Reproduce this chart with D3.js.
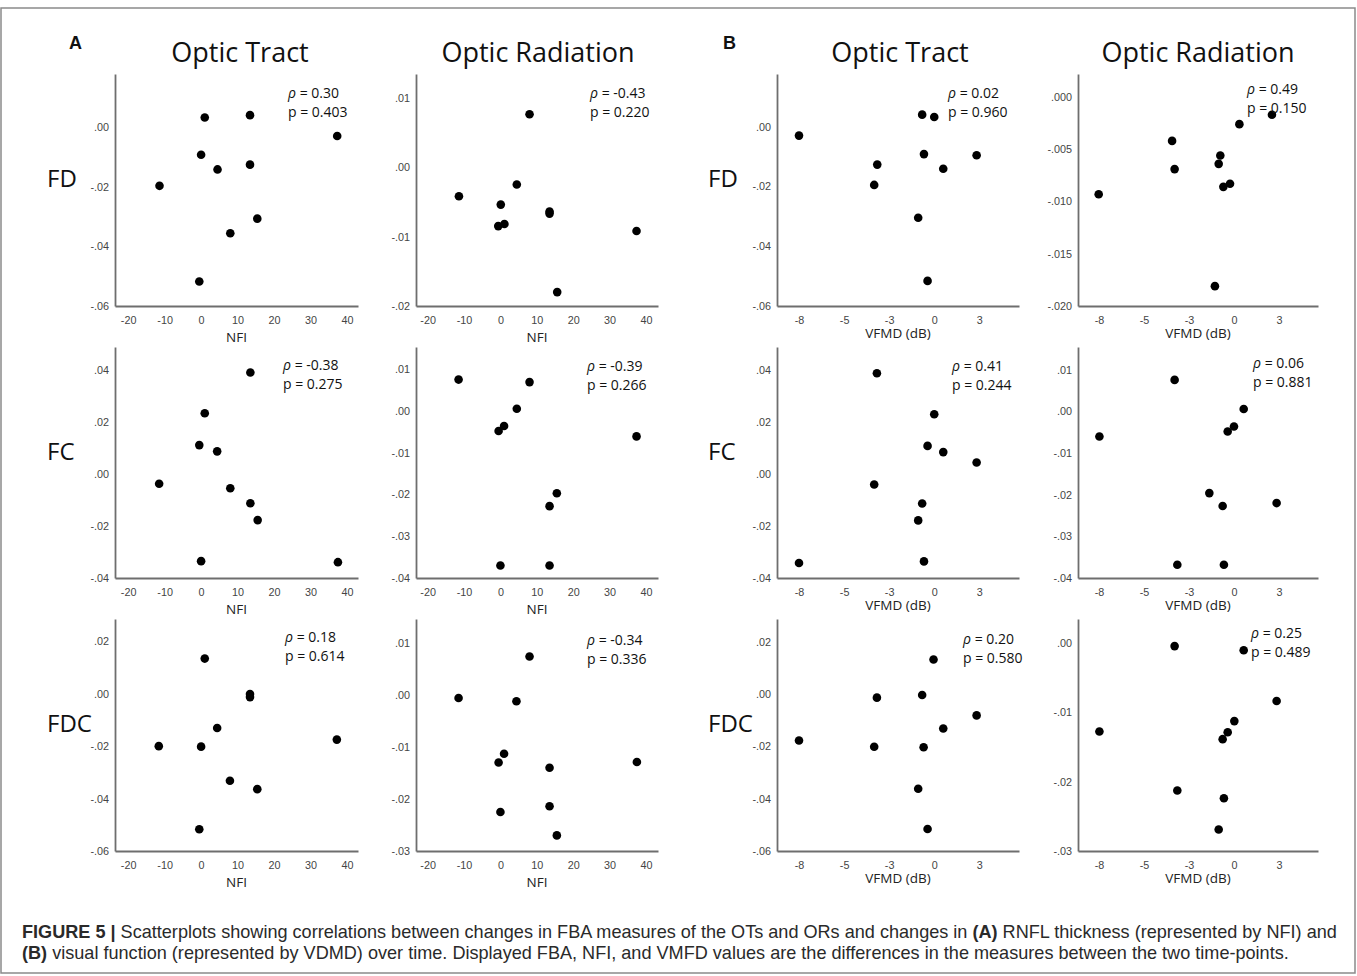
<!DOCTYPE html>
<html>
<head>
<meta charset="utf-8">
<script src="https://cdn.jsdelivr.net/npm/d3@7"></script>
<style>
  body { margin: 0; background: #fff; }
</style>
</head>
<body>
<svg id="fig" width="1357" height="976"></svg>
<script>
// row / column names
const measures = ["FD", "FC", "FDC"];
const tracts = ["Optic Tract", "Optic Radiation"];
const groups = ["A", "B"];
const xTitles = ["NFI", "VFMD (dB)"];

// x ticks
const nfiTicks = [-20, -10, 0, 10, 20, 30, 40];
const vfmdTicks = [-7.5, -5, -2.5, 0, 2.5];
const vfmdTickLabels = ["-8", "-5", "-3", "0", "3"];

// y ticks, one list per panel kind
const yTicksFdOT = [-0.06, -0.04, -0.02, 0];
const yTicksFdOR_A = [-0.02, -0.01, 0, 0.01];
const yTicksFdOR_B = [-0.02, -0.015, -0.01, -0.005, 0];
const yTicksFcOT = [-0.04, -0.02, 0, 0.02, 0.04];
const yTicksFcOR = [-0.04, -0.03, -0.02, -0.01, 0, 0.01];
const yTicksFdcOT = [-0.06, -0.04, -0.02, 0, 0.02];
const yTicksFdcOR_A = [-0.03, -0.02, -0.01, 0, 0.01];
const yTicksFdcOR_B = [-0.03, -0.02, -0.01, 0];

// (A) x = NFI change, y = FBA change
const aFdOT = [[1.0, 0.0032], [13.4, 0.0040], [37.3, -0.0030], [0, -0.0093], [4.5, -0.0142],
  [13.4, -0.0126], [-11.4, -0.0197], [15.4, -0.0307], [8.0, -0.0356], [-0.5, -0.0518]];
const aFdOR = [[8.0, 0.0076], [4.5, -0.0025], [-11.4, -0.0042], [0.1, -0.0054], [-0.6, -0.0085],
  [1.1, -0.0082], [13.5, -0.0064], [13.5, -0.0067], [37.4, -0.0092], [15.6, -0.0180]];
const aFcOT = [[13.5, 0.0392], [1.0, 0.0235], [-0.5, 0.0112], [4.4, 0.0088], [-11.5, -0.0037],
  [8.0, -0.0054], [13.5, -0.0112], [15.5, -0.0177], [0, -0.0335], [37.5, -0.0339]];
const aFcOR = [[-11.5, 0.0075], [8.0, 0.0069], [4.5, 0.0005], [1.0, -0.0036], [-0.5, -0.0048],
  [37.4, -0.0061], [15.5, -0.0197], [13.5, -0.0228], [0, -0.0370], [13.5, -0.0370]];
const aFdcOT = [[1.0, 0.0134], [13.4, -0.0001], [13.4, -0.0013], [4.4, -0.0131], [-11.6, -0.0200],
  [0, -0.0202], [37.2, -0.0175], [7.9, -0.0332], [15.4, -0.0364], [-0.5, -0.0517]];
const aFdcOR = [[8.0, 0.0074], [-11.5, -0.0006], [4.4, -0.0012], [1.0, -0.0113], [-0.5, -0.0130],
  [13.5, -0.0140], [37.5, -0.0129], [13.5, -0.0214], [0, -0.0225], [15.5, -0.0270]];

// (B) x = VFMD change (dB), y = FBA change
const bFdOT = [[-7.5, -0.0030], [-3.16, -0.0127], [-3.33, -0.0195], [-0.67, 0.0040], [0, 0.0032],
  [-0.57, -0.0092], [2.35, -0.0096], [0.50, -0.0141], [-0.89, -0.0305], [-0.37, -0.0516]];
const bFdOR = [[-7.52, -0.0093], [-3.44, -0.0042], [-3.30, -0.0069], [-0.76, -0.0056], [-0.85, -0.0064],
  [-0.59, -0.0086], [-0.22, -0.0083], [0.30, -0.0026], [2.11, -0.0017], [-1.06, -0.0181]];
const bFcOT = [[-3.18, 0.0389], [0, 0.0231], [-0.37, 0.0109], [0.50, 0.0085], [2.35, 0.0045],
  [-3.33, -0.0040], [-0.67, -0.0113], [-0.89, -0.0178], [-7.5, -0.0342], [-0.57, -0.0336]];
const bFcOR = [[-3.30, 0.0076], [0.54, 0.0006], [0, -0.0036], [-0.35, -0.0048], [-7.48, -0.0060],
  [-1.37, -0.0196], [-0.63, -0.0227], [2.37, -0.0220], [-3.15, -0.0368], [-0.56, -0.0368]];
const bFdcOT = [[-0.04, 0.0133], [-3.18, -0.0013], [-0.67, -0.0003], [2.35, -0.0081], [0.50, -0.0131],
  [-7.5, -0.0177], [-3.33, -0.0201], [-0.59, -0.0203], [-0.89, -0.0362], [-0.37, -0.0516]];
const bFdcOR = [[-3.30, -0.0005], [0.54, -0.0011], [2.37, -0.0084], [0.02, -0.0113], [-0.35, -0.0129],
  [-0.63, -0.0139], [-7.48, -0.0128], [-3.15, -0.0213], [-0.56, -0.0224], [-0.85, -0.0269]];

// spearman rho and p, row by row, columns A-OT, A-OR, B-OT, B-OR
const rhos = [["0.30", "-0.43", "0.02", "0.49"], ["-0.38", "-0.39", "0.41", "0.06"], ["0.18", "-0.34", "0.20", "0.25"]];
const pvals = [["0.403", "0.220", "0.960", "0.150"], ["0.275", "0.266", "0.244", "0.881"], ["0.614", "0.336", "0.580", "0.489"]];

// ---- layout ----
const colX = [[115, 358], [416, 658], [777, 1019], [1078, 1318]];
const rowY = [[74, 306], [347, 578], [619, 851]];
const xDomains = [[-23.6, 43.0], [-23.2, 43.3], [-8.72, 4.70], [-8.67, 4.67]];
const yDomains = [
  [[-0.06, 0.0178], [-0.02, 0.0134], [-0.06, 0.0176], [-0.02, 0.0022]],
  [[-0.04, 0.049], [-0.04, 0.0153], [-0.04, 0.049], [-0.04, 0.0155]],
  [[-0.06, 0.0285], [-0.03, 0.0146], [-0.06, 0.0288], [-0.03, 0.0034]]
];
// offset of the rho/p note from the plot's top-left corner
const statPos = [
  [[173, 19], [174, 19], [171, 19], [169, 15]],
  [[168, 18], [171, 19], [175, 19], [175, 16]],
  [[170, 18], [171, 21], [186, 20], [173, 14]]
];

const panelData = [[aFdOT, aFdOR, bFdOT, bFdOR], [aFcOT, aFcOR, bFcOT, bFcOR], [aFdcOT, aFdcOR, bFdcOT, bFdcOR]];
const panelYTicks = [
  [yTicksFdOT, yTicksFdOR_A, yTicksFdOT, yTicksFdOR_B],
  [yTicksFcOT, yTicksFcOR, yTicksFcOT, yTicksFcOR],
  [yTicksFdcOT, yTicksFdcOR_A, yTicksFdcOT, yTicksFdcOR_B]
];

const SANS = "'Open Sans', 'Noto Sans', sans-serif";
const ARIAL = "'Liberation Sans', Arial, sans-serif";

let svg = d3.select("#fig");

// outer frame
svg.append("rect")
  .attr("x", 1).attr("y", 8).attr("width", 1354).attr("height", 965)
  .attr("fill", "none").attr("stroke", "#8a8a8a").attr("stroke-width", 1.5);

// SPSS style labels: .00, -.02
function spssFmt(digits) {
  return function(d) {
    let s = Math.abs(d).toFixed(digits).replace(/^0/, "");
    return (d < 0 ? "-" : "") + s;
  };
}

function drawPanel(row, col) {
  let grp = col < 2 ? 0 : 1;
  let [x0, x1] = colX[col];
  let [y0, y1] = rowY[row];

  let x = d3.scaleLinear().domain(xDomains[col]).range([x0, x1]);
  let y = d3.scaleLinear().domain(yDomains[row][col]).range([y1, y0]);

  let g = svg.append("g");

  let yDigits = (row === 0 && col === 3) ? 3 : 2;
  let yAxis = d3.axisLeft(y)
    .tickValues(panelYTicks[row][col])
    .tickFormat(spssFmt(yDigits))
    .tickSize(0).tickPadding(6);

  let xAxis = d3.axisBottom(x)
    .tickSize(0).tickPadding(10);
  if (grp === 0) {
    xAxis.tickValues(nfiTicks).tickFormat(d => String(d));
  } else {
    xAxis.tickValues(vfmdTicks).tickFormat((d, i) => vfmdTickLabels[i]);
  }

  let ya = g.append("g").attr("transform", `translate(${x0},0)`).call(yAxis);
  let xa = g.append("g").attr("transform", `translate(0,${y1})`).call(xAxis);

  [ya, xa].forEach(a => {
    a.select(".domain").attr("stroke", "#6e6e6e").attr("stroke-width", 1.8);
    a.selectAll("text").attr("fill", "#444").style("font-family", ARIAL).style("font-size", "10.8px");
  });

  // x title
  g.append("text")
    .attr("x", (x0 + x1) / 2)
    .attr("y", y1 + (grp === 0 ? 31 : 27))
    .attr("dy", "0.35em")
    .attr("text-anchor", "middle")
    .style("font-family", SANS).style("font-size", "13.5px").attr("fill", "#222")
    .text(xTitles[grp]);

  // points
  g.selectAll("circle").data(panelData[row][col]).enter().append("circle")
    .attr("cx", d => x(d[0]))
    .attr("cy", d => y(d[1]))
    .attr("r", 4.3)
    .attr("fill", "#000");

  // rho / p note
  let [dx, dy] = statPos[row][col];
  let note = g.append("text")
    .attr("x", x0 + dx).attr("y", y0 + dy)
    .attr("dy", "0.35em")
    .style("font-family", SANS).style("font-size", "14px").attr("fill", "#111");
  note.append("tspan").style("font-style", "italic").text("\u03c1");
  note.append("tspan").text(" = " + rhos[row][col]);
  g.append("text")
    .attr("x", x0 + dx).attr("y", y0 + dy + 19.5)
    .attr("dy", "0.35em")
    .style("font-family", SANS).style("font-size", "14px").attr("fill", "#111")
    .text("p = " + pvals[row][col]);
}

for (let r = 0; r < 3; r++) {
  for (let c = 0; c < 4; c++) drawPanel(r, c);
}

// column titles
const titleX = [240, 538, 900, 1198];
titleX.forEach((tx, i) => {
  svg.append("text")
    .attr("x", tx).attr("y", 62)
    .attr("text-anchor", "middle")
    .style("font-family", SANS).style("font-size", "27px").attr("fill", "#111")
    .text(tracts[i % 2]);
});

// group letters
[69, 723].forEach((lx, i) => {
  svg.append("text")
    .attr("x", lx).attr("y", 49)
    .style("font-family", ARIAL).style("font-size", "18px").style("font-weight", "bold")
    .attr("fill", "#111")
    .text(groups[i]);
});

// row labels
[47, 708].forEach(lx => {
  measures.forEach((m, r) => {
    svg.append("text")
      .attr("x", lx).attr("y", (rowY[r][0] + rowY[r][1]) / 2 - 11)
      .attr("dy", "0.35em")
      .style("font-family", SANS).style("font-size", "24px").attr("fill", "#111")
      .text(m);
  });
});

// caption
const capLines = [
  [["FIGURE 5 |", true], [" Scatterplots showing correlations between changes in FBA measures of the OTs and ORs and changes in ", false],
   ["(A)", true], [" RNFL thickness (represented by NFI) and", false]],
  [["(B)", true], [" visual function (represented by VDMD) over time. Displayed FBA, NFI, and VMFD values are the differences in the measures between the two time-points.", false]]
];
capLines.forEach((line, i) => {
  let t = svg.append("text")
    .attr("x", 22).attr("y", 938 + i * 21)
    .style("font-family", ARIAL).style("font-size", "18.1px").attr("fill", "#2a2a2a");
  line.forEach(([s, bold]) => {
    t.append("tspan").style("font-weight", bold ? "bold" : "normal").text(s);
  });
});
</script>
</body>
</html>
